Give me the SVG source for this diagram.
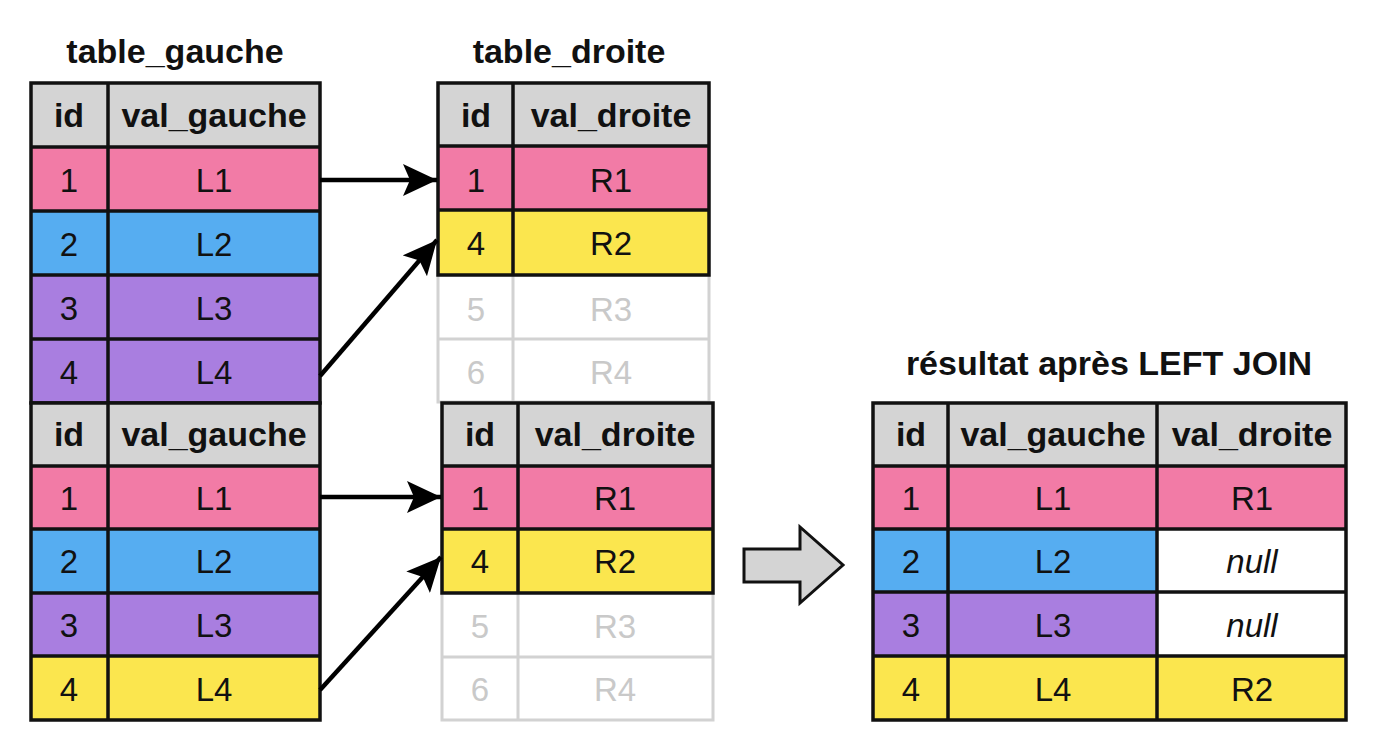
<svg xmlns="http://www.w3.org/2000/svg" width="1375" height="750" viewBox="0 0 1375 750">
<style>
.t{font-family:"Liberation Sans",Arial,sans-serif;font-size:33px;text-anchor:middle;fill:#111}
.b{font-weight:bold;font-size:34px}
.i{font-style:italic}
.f{fill:#c9c9c9}
.hd{fill:#d4d4d4}
.pk{fill:#f27ba6}
.bl{fill:#56adf1}
.pu{fill:#a97ee0}
.ye{fill:#fbe64e}
.wh{fill:#ffffff}
.ln{stroke:#111;stroke-width:3.5;fill:none}
.fl{stroke:#d2d2d2;stroke-width:3;fill:none}
.ar{stroke:#000;stroke-width:4.5;fill:none}
</style>
<defs>
<marker id="ah" markerUnits="userSpaceOnUse" markerWidth="36" markerHeight="32" refX="34" refY="16" orient="auto">
<path d="M0,0 L34,16 L0,32 L7,16 z" fill="#000"/>
</marker>
</defs>
<rect width="1375" height="750" fill="#ffffff"/>

<text class="t b" x="175" y="63">table_gauche</text>
<text class="t b" x="569" y="63">table_droite</text>
<text class="t b" x="1109" y="375">résultat après LEFT JOIN</text>

<g id="table_gauche_top">
<rect class="hd" x="31" y="83" width="289" height="64"/>
<rect class="pk" x="31" y="147" width="289" height="64"/>
<rect class="bl" x="31" y="211" width="289" height="64"/>
<rect class="pu" x="31" y="275" width="289" height="64"/>
<rect class="pu" x="31" y="339" width="289" height="64"/>
<path class="ln" d="M31,83 H320 V403 H31 Z M108,83 V403 M31,147 H320 M31,211 H320 M31,275 H320 M31,339 H320"/>
<text class="t b" x="69" y="127">id</text>
<text class="t b" x="214" y="127">val_gauche</text>
<text class="t" x="69" y="192">1</text><text class="t" x="214" y="192">L1</text>
<text class="t" x="69" y="256">2</text><text class="t" x="214" y="256">L2</text>
<text class="t" x="69" y="320">3</text><text class="t" x="214" y="320">L3</text>
<text class="t" x="69" y="384">4</text><text class="t" x="214" y="384">L4</text>
</g>

<g id="table_droite_top">
<path class="fl" d="M438,275 V402 H709 V275 M513,275 V402 M438,339 H709"/>
<text class="t f" x="476" y="321">5</text><text class="t f" x="611" y="321">R3</text>
<text class="t f" x="476" y="384">6</text><text class="t f" x="611" y="384">R4</text>
<rect class="hd" x="438" y="83" width="271" height="63"/>
<rect class="pk" x="438" y="146" width="271" height="64"/>
<rect class="ye" x="438" y="210" width="271" height="65"/>
<path class="ln" d="M438,83 H709 V275 H438 Z M513,83 V275 M438,146 H709 M438,210 H709"/>
<text class="t b" x="476" y="127">id</text>
<text class="t b" x="611" y="127">val_droite</text>
<text class="t" x="476" y="192">1</text><text class="t" x="611" y="192">R1</text>
<text class="t" x="476" y="255">4</text><text class="t" x="611" y="255">R2</text>
</g>

<g id="table_gauche_bottom">
<rect class="hd" x="31" y="403" width="289" height="63"/>
<rect class="pk" x="31" y="466" width="289" height="63"/>
<rect class="bl" x="31" y="529" width="289" height="64"/>
<rect class="pu" x="31" y="593" width="289" height="63"/>
<rect class="ye" x="31" y="656" width="289" height="64"/>
<path class="ln" d="M31,403 H320 V720 H31 Z M108,403 V720 M31,466 H320 M31,529 H320 M31,593 H320 M31,656 H320"/>
<text class="t b" x="69" y="446">id</text>
<text class="t b" x="214" y="446">val_gauche</text>
<text class="t" x="69" y="510">1</text><text class="t" x="214" y="510">L1</text>
<text class="t" x="69" y="573">2</text><text class="t" x="214" y="573">L2</text>
<text class="t" x="69" y="637">3</text><text class="t" x="214" y="637">L3</text>
<text class="t" x="69" y="701">4</text><text class="t" x="214" y="701">L4</text>
</g>

<g id="table_droite_bottom">
<path class="fl" d="M442,593 V720 H713 V593 M518,593 V720 M442,657 H713"/>
<text class="t f" x="480" y="638">5</text><text class="t f" x="615" y="638">R3</text>
<text class="t f" x="480" y="701">6</text><text class="t f" x="615" y="701">R4</text>
<rect class="hd" x="442" y="403" width="271" height="63"/>
<rect class="pk" x="442" y="466" width="271" height="63"/>
<rect class="ye" x="442" y="529" width="271" height="64"/>
<path class="ln" d="M442,403 H713 V593 H442 Z M518,403 V593 M442,466 H713 M442,529 H713"/>
<text class="t b" x="480" y="446">id</text>
<text class="t b" x="615" y="446">val_droite</text>
<text class="t" x="480" y="510">1</text><text class="t" x="615" y="510">R1</text>
<text class="t" x="480" y="573">4</text><text class="t" x="615" y="573">R2</text>
</g>

<g id="big_arrow">
<path d="M744,549 H800 V527 L843,565 L800,603 V582 H744 Z" fill="#d4d4d4" stroke="#111" stroke-width="3" stroke-linejoin="miter"/>
</g>

<g id="table_resultat">
<rect class="hd" x="873" y="403" width="473" height="63"/>
<rect class="pk" x="873" y="466" width="473" height="63"/>
<rect class="bl" x="873" y="529" width="284" height="63"/>
<rect class="wh" x="1157" y="529" width="189" height="63"/>
<rect class="pu" x="873" y="592" width="284" height="64"/>
<rect class="wh" x="1157" y="592" width="189" height="64"/>
<rect class="ye" x="873" y="656" width="473" height="64"/>
<path class="ln" d="M873,403 H1346 V720 H873 Z M948,403 V720 M1157,403 V720 M873,466 H1346 M873,529 H1346 M873,592 H1346 M873,656 H1346"/>
<text class="t b" x="911" y="446">id</text>
<text class="t b" x="1053" y="446">val_gauche</text>
<text class="t b" x="1252" y="446">val_droite</text>
<text class="t" x="911" y="510">1</text><text class="t" x="1053" y="510">L1</text><text class="t" x="1252" y="510">R1</text>
<text class="t" x="911" y="573">2</text><text class="t" x="1053" y="573">L2</text><text class="t i" x="1252" y="573">null</text>
<text class="t" x="911" y="637">3</text><text class="t" x="1053" y="637">L3</text><text class="t i" x="1252" y="637">null</text>
<text class="t" x="911" y="701">4</text><text class="t" x="1053" y="701">L4</text><text class="t" x="1252" y="701">R2</text>
</g>

<g id="connectors">
<line class="ar" x1="320" y1="180" x2="437" y2="180" marker-end="url(#ah)"/>
<line class="ar" x1="320" y1="376" x2="437" y2="240" marker-end="url(#ah)"/>
<line class="ar" x1="320" y1="497" x2="441" y2="497" marker-end="url(#ah)"/>
<line class="ar" x1="320" y1="690" x2="441" y2="557" marker-end="url(#ah)"/>
</g>
</svg>
